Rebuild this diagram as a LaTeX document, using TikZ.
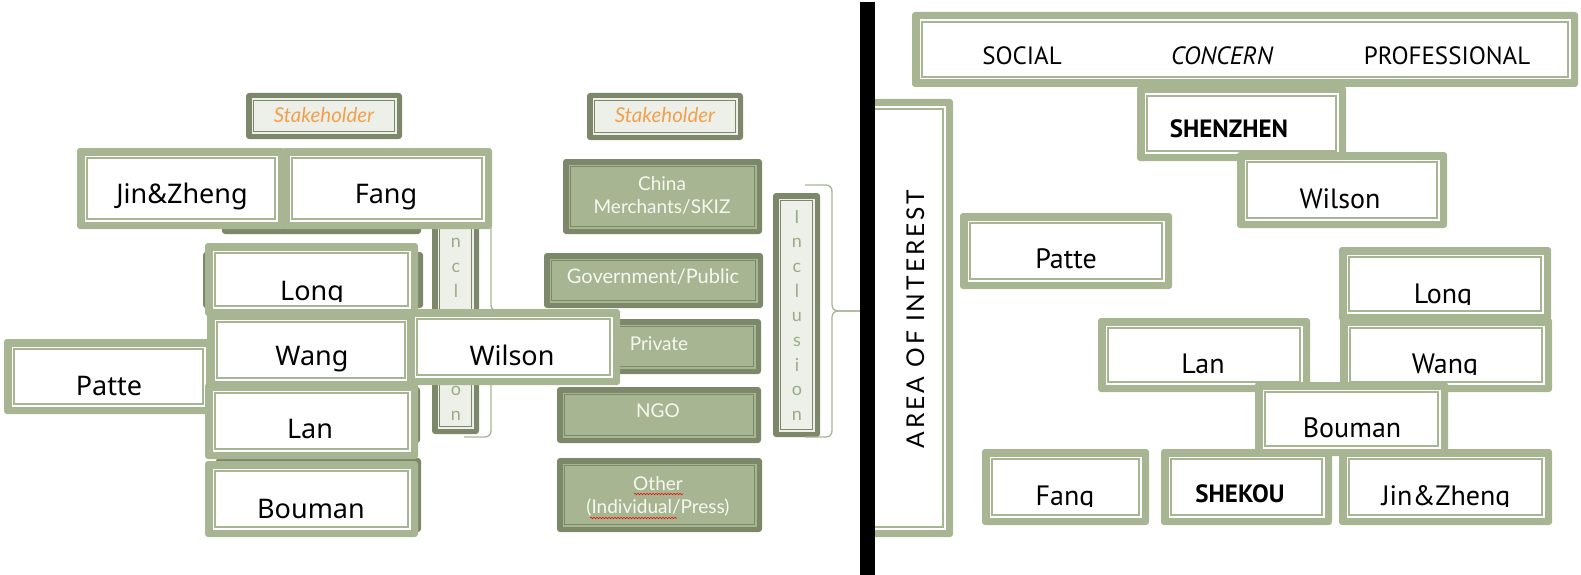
\documentclass[tikz,border=0pt]{standalone}
\usepackage{fontspec}
\setmainfont{Noto Sans}
\newfontfamily\rfont{PT Sans}
\newfontfamily\gfont{Lato}
\usetikzlibrary{decorations.pathmorphing}
\definecolor{band}{HTML}{A7B592}
\definecolor{dk}{HTML}{7D886B}
\definecolor{lite}{HTML}{EDF0E9}
\definecolor{orng}{HTML}{F2A04E}
\definecolor{cattxt}{HTML}{F7F7F0}
\definecolor{incltxt}{HTML}{9AAB86}
\newcommand\wbox[4]{%
  \fill[band, rounded corners=3] (#1,#2) rectangle (#3,#4);
  \fill[white] (#1+7.5,#2+7.5) rectangle (#3-7.5,#4-7.5);
  \draw[band, line width=1.8] (#1+10.2,#2+10.2) rectangle (#3-10.2,#4-10.2);
}
\newcommand\dbox[5]{%
  \fill[dk, rounded corners=3] (#1,#2) rectangle (#3,#4);
  \fill[#5] (#1+5.5,#2+5.5) rectangle (#3-5.5,#4-5.5);
  \draw[dk, line width=0.9] (#1+7.5,#2+7.5) rectangle (#3-7.5,#4-7.5);
}
\tikzset{
  lname/.style={font=\fontsize{27}{30}\selectfont, anchor=base, text=black, inner sep=0},
  rname/.style={font=\rfont\fontsize{28}{30}\selectfont, anchor=base, text=black, inner sep=0},
  rhead/.style={font=\rfont\fontsize{25}{28}\selectfont, anchor=base, text=black, inner sep=0},
  rbold/.style={font=\rfont\bfseries\fontsize{25}{28}\selectfont, anchor=base, text=black, inner sep=0},
  cat/.style={font=\gfont\fontsize{19}{20}\selectfont, text=cattxt, anchor=base, inner sep=0},
  skh/.style={font=\gfont\itshape\fontsize{20.5}{22}\selectfont, text=orng, anchor=base, inner sep=0},
  incl/.style={font=\gfont\fontsize{18}{20}\selectfont, text=incltxt, anchor=base, inner sep=0},
  bracel/.style={draw=band, line width=1.3, rounded corners=6},
  squig/.style={draw=red, line width=0.6, decorate, decoration={snake, amplitude=0.7, segment length=3}},
}
\begin{document}
\begin{tikzpicture}[x=1pt,y=-1pt]
\useasboundingbox (0,0) rectangle (1581,575);
% ---------- left: dark category copies behind ----------
\dbox{222}{159}{421}{234}{band}
\dbox{203}{252}{423}{308}{band}
\dbox{216}{319}{420}{374}{band}
\dbox{216}{387}{420}{443}{band}
\dbox{216}{458}{421}{532}{band}
% stakeholder left
\dbox{246}{93}{402}{139}{lite}
\node[skh] (skL) at (324,123) {Stakeholder};
% inclusion left
\dbox{432}{193}{479}{434}{lite}
\foreach \ch [count=\k from 0] in {I,n,c,l,u,s,i,o,n}
  \node[incl] (inL\k) at (456,{223+24.7*\k}) {\ch};
\coordinate (bLa) at (464,185);
\coordinate (bLt) at (519,311);
\coordinate (bLb) at (464,437);
\draw[bracel] (bLa) -- (491,185) -- (491,311) -- (bLt);
\draw[bracel] (bLt) -- (491,311) -- (491,437) -- (bLb);
% white boxes left
\wbox{77}{148}{285}{229}
\node[lname] (jzL) at (182,203) {Jin\&Zheng};
\wbox{282}{148}{492}{229}
\node[lname] (faL) at (386,203) {Fang};
\wbox{205}{243}{418}{316}
\begin{scope}\clip (205,243) rectangle (418,301);
\node[lname] (loL) at (312,300) {Long};
\end{scope}
\wbox{4}{339}{213}{414}
\node[lname] (paL) at (109,395) {Patte};
\wbox{207}{312}{415}{388}
\node[lname] (waL) at (312,365) {Wang};
\wbox{205}{383}{418}{459}
\node[lname] (laL) at (310,438) {Lan};
\wbox{205}{461}{418}{537}
\node[lname] (boL) at (311,518) {Bouman};
% ---------- right categories ----------
\dbox{587}{93}{743}{140}{lite}
\node[skh] (skR) at (665,123) {Stakeholder};
\dbox{563}{159}{762}{234}{band}
\node[cat] (cm1) at (662,190) {China};
\node[cat] (cm2) at (662,213) {Merchants/SKIZ};
\dbox{544}{253}{763}{308}{band}
\node[cat, font=\gfont\fontsize{20}{22}\selectfont] (gov) at (653,283) {Government/Public};
\dbox{557}{319}{761}{374}{band}
\node[cat] (pri) at (659,350) {Private};
\dbox{557}{387}{761}{443}{band}
\node[cat] (ngo) at (658,417) {NGO};
\dbox{557}{458}{762}{532}{band}
\node[cat] (oth1) at (658,490) {Other};
\node[cat] (oth2) at (658,513) {(Individual/Press)};
\draw[squig] (634,494) -- (683,494);
\draw[squig] (590,518) -- (677,518);
% inclusion right
\dbox{773}{193}{820}{437}{lite}
\foreach \ch [count=\k from 0] in {I,n,c,l,u,s,i,o,n}
  \node[incl] (inR\k) at (797,{223+24.7*\k}) {\ch};
\coordinate (bRa) at (805,185);
\coordinate (bRt) at (860,311);
\coordinate (bRb) at (805,437);
\draw[bracel] (bRa) -- (832,185) -- (832,311) -- (bRt);
\draw[bracel] (bRt) -- (832,311) -- (832,437) -- (bRb);
% Wilson left on top
\wbox{407}{309}{620}{385}
\node[lname] (wiL) at (512,365) {Wilson};
% ---------- right side ----------
\wbox{862}{99}{953}{537}
\node[font=\gfont\fontsize{24.5}{26}\selectfont\addfontfeature{LetterSpace=12}, rotate=90, anchor=base, inner sep=0] (aoi) at (924,319) {AREA OF INTEREST};
\wbox{912}{12}{1578}{87}
\node[rhead] (soc) at (1022,65) {SOCIAL};
\node[rhead, font=\rfont\itshape\fontsize{25}{28}\selectfont] (con) at (1222,65) {CONCERN};
\node[rhead] (pro) at (1447,65) {PROFESSIONAL};
\wbox{1137}{86}{1346}{161}
\node[rbold] (shz) at (1229,138) {SHENZHEN};
\wbox{1237}{152}{1447}{228}
\node[rname] (wiR) at (1340,208) {Wilson};
\wbox{960}{213}{1172}{289}
\node[rname] (paR) at (1066,268) {Patte};
\wbox{1339}{247}{1551}{321}
\begin{scope}\clip (1339,247) rectangle (1551,304);
\node[rname] (loR) at (1443,303) {Long};
\end{scope}
\wbox{1098}{318}{1310}{392}
\node[rname] (laR) at (1203,373) {Lan};
\wbox{1340}{318}{1552}{392}
\begin{scope}\clip (1340,318) rectangle (1552,374);
\node[rname] (waR) at (1445,373) {Wang};
\end{scope}
\wbox{982}{449}{1149}{525}
\begin{scope}\clip (982,449) rectangle (1149,506);
\node[rname] (faR) at (1065,505) {Fang};
\end{scope}
\wbox{1161}{449}{1332}{525}
\node[rbold] (shk) at (1240,502) {SHEKOU};
\wbox{1339}{449}{1552}{525}
\begin{scope}\clip (1339,449) rectangle (1552,506);
\node[rname] (jzR) at (1446,505) {Jin\&Zheng};
\end{scope}
\wbox{1255}{382}{1448}{456}
\node[rname] (boR) at (1352,437) {Bouman};
% black divider
\fill[black] (860,2) rectangle (875,575);
\end{tikzpicture}
\end{document}
